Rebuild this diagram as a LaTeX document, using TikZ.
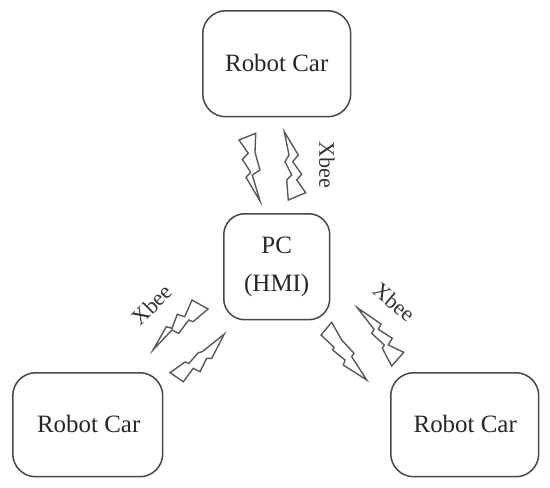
\documentclass[tikz,border=0pt]{standalone}
\usepackage{fontspec}
\setmainfont{Liberation Serif}
\tikzset{
  unitbox/.style={draw=black!72,line width=1.5*0.02cm,rounded corners=#1,anchor=north west,inner sep=0pt,align=center,text=black!85,font=\fontsize{14.2}{21.6}\selectfont},
  bolt/.style={draw=black!65,line width=1.4*0.02cm,line join=miter,fill=white},
  xbee/.style={text=black!80,font=\fontsize{12.6}{15}\selectfont,inner sep=0pt}
}
\begin{document}
\begin{tikzpicture}[x=0.02cm,y=-0.02cm]
\useasboundingbox (0,0) rectangle (550,487);
\node[unitbox=0.46cm,minimum width=2.96cm,minimum height=2.12cm] (top) at (202,10) {\raisebox{0.03cm}{Robot Car}};
\node[unitbox=0.42cm,minimum width=2.12cm,minimum height=2.12cm] (pc) at (223,213) {\raisebox{-0.04cm}{PC}\\\raisebox{-0.04cm}{(HMI)}};
\node[unitbox=0.46cm,minimum width=3.00cm,minimum height=2.08cm] (left) at (12,372) {\raisebox{0.04cm}{\hspace{0.04cm}Robot Car}};
\node[unitbox=0.46cm,minimum width=2.96cm,minimum height=2.08cm] (right) at (390,372) {\raisebox{0.04cm}{\hspace{0.02cm}Robot Car}};
\draw[bolt] (239,140)--(255.7,133.3)--(255,152.3)--(260,170)--(252.3,175)--(260,201)--(246,177.3)--(250.7,172.3)--(242.3,159.3)--(248.3,153.3)--cycle;
\draw[bolt] (284.3,131.7)--(298.3,155)--(292.7,161.7)--(301.7,174.3)--(296.7,180)--(305.7,192.7)--(288.3,200)--(286.7,180)--(291.7,175)--(285,161.7)--(289,155)--cycle;
\draw[bolt] (153,350)--(166.3,326.7)--(172,328.3)--(177.3,314.3)--(184.7,316.7)--(192,300)--(208,309)--(193,321.7)--(188.7,320)--(178.7,333.3)--(172,330)--cycle;
\draw[bolt] (224.3,334)--(202.3,351.7)--(198.3,352.7)--(189,363.3)--(185,362)--(170,372.7)--(183.3,381.7)--(193.3,368.3)--(200,371.7)--(206.7,358.3)--(211.7,358.3)--cycle;
\draw[bolt] (357.3,307.7)--(381,324)--(378.3,329.3)--(392.3,338.3)--(388.3,345)--(403.7,352.3)--(391.7,366)--(382.3,348.3)--(384.3,345)--(371.7,333.3)--(374,329.3)--cycle;
\draw[bolt] (366.7,380)--(351.7,356.7)--(354,353.3)--(341.7,340)--(331.7,322.3)--(321,335)--(334,347.3)--(332.7,350)--(345,360)--(343.3,365)--cycle;
\node[xbee,rotate=-90] (xt) at (327,165) {Xbee};
\node[xbee,rotate=45] (xl) at (152,305) {Xbee};
\node[xbee,rotate=-40] (xr) at (394,302) {Xbee};
\end{tikzpicture}
\end{document}
